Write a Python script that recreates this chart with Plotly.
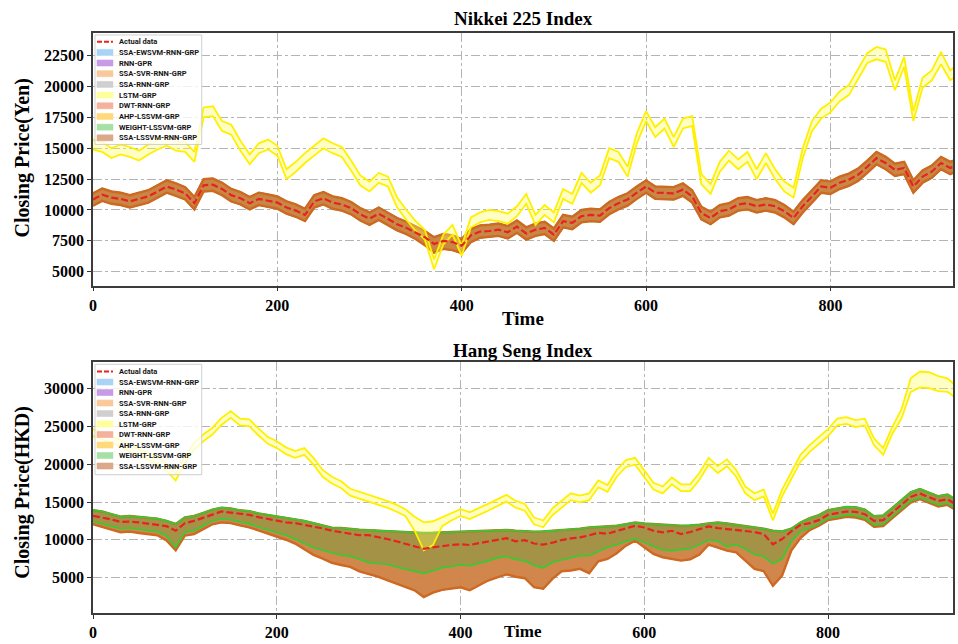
import plotly.graph_objects as go

# ---------------------------------------------------------------- data
time_nk = list(range(0, 950, 10))
time_hs = list(range(0, 950, 10))

nk_actual = [10840, 11240, 11000, 10900, 10700, 10900, 11100, 11500, 11900, 11650,
             11350, 10550, 12000, 12050, 11700, 11200, 10950, 10550, 10900, 10750,
             10600, 10200, 9950, 9600, 10700, 10950, 10600, 10450, 10150, 9650,
             9300, 9700, 9250, 8850, 8550, 8200, 7800, 7250, 7500, 7400,
             7100, 7950, 8250, 8300, 8400, 8200, 8650, 8100, 8400, 8550,
             8000, 9100, 8950, 9500, 9600, 9550, 10150, 10550, 10850, 11400,
             11900, 11400, 11400, 11350, 11650, 11100, 9750, 9350, 9900, 10050,
             10450, 10550, 10300, 10450, 10300, 9900, 9350, 10300, 11100, 11900,
             11800, 12200, 12450, 12850, 13500, 14200, 13800, 13250, 13400, 11900,
             12700, 13100, 13800, 13400, 13700]

nk_lo = [10340, 10740, 10500, 10400, 10200, 10400, 10600, 11000, 11400, 11150,
         10850, 10050, 11500, 11550, 11200, 10700, 10450, 10050, 10400, 10250,
         10100, 9700, 9450, 9100, 10200, 10450, 10100, 9950, 9650, 9150,
         8800, 9200, 8750, 8350, 8050, 7650, 7150, 6550, 6850, 6750,
         6500, 7400, 7750, 7800, 7900, 7700, 8150, 7600, 7900, 8050,
         7500, 8600, 8450, 9000, 9100, 9050, 9650, 10050, 10350, 10900,
         11400, 10900, 10900, 10850, 11150, 10600, 9250, 8850, 9400, 9550,
         9950, 10050, 9800, 9950, 9800, 9400, 8850, 9800, 10600, 11400,
         11300, 11700, 11950, 12350, 13000, 13700, 13300, 12750, 12900, 11400,
         12200, 12600, 13300, 12900, 13200]

nk_hi = [11340, 11740, 11500, 11400, 11200, 11400, 11600, 12000, 12400, 12150,
         11850, 11050, 12500, 12550, 12200, 11700, 11450, 11050, 11400, 11250,
         11100, 10700, 10450, 10100, 11200, 11450, 11100, 10950, 10650, 10150,
         9800, 10200, 9750, 9350, 9050, 8700, 8300, 7800, 8050, 7950,
         7650, 8450, 8750, 8800, 8900, 8700, 9150, 8600, 8900, 9050,
         8500, 9600, 9450, 10000, 10100, 10050, 10650, 11050, 11350, 11900,
         12400, 11900, 11900, 11850, 12150, 11600, 10250, 9850, 10400, 10550,
         10950, 11050, 10800, 10950, 10800, 10400, 9850, 10800, 11600, 12400,
         12300, 12700, 12950, 13350, 14000, 14700, 14300, 13750, 13900, 12400,
         13200, 13600, 14300, 13900, 14200]

nk_lstm_hi = [15700, 15500, 15000, 15300, 15100, 14800, 15300, 15700, 16000, 15600,
              15500, 14700, 18300, 18400, 17200, 16900, 15600, 14500, 15400, 15700,
              15200, 13300, 13900, 14600, 15200, 15800, 15400, 15100, 14000, 12800,
              12300, 13000, 12700, 11000, 10000, 9100, 8400, 6000, 8000, 8800,
              7100, 9400, 9800, 10000, 9900, 9700, 10300, 11300, 9600, 10400,
              9800, 11700, 11300, 13000, 12200, 12800, 15000, 14700, 13500, 16200,
              18000, 16700, 17400, 15900, 17400, 17600, 12900, 12100, 13900, 14800,
              14100, 14700, 13300, 14600, 13300, 12300, 11800, 15000, 17200, 18200,
              18700, 19600, 20100, 21400, 22700, 23200, 23000, 20500, 22400, 18000,
              20700, 21300, 22800, 21300, 21900]

nk_lstm_lo = [14900, 14700, 14200, 14500, 14300, 14000, 14500, 14900, 15200, 14800,
              14700, 13900, 17500, 17600, 16400, 16100, 14800, 13700, 14600, 14900,
              14400, 12500, 13100, 13800, 14400, 15000, 14600, 14300, 13200, 12000,
              11500, 12200, 11900, 10200, 9200, 8300, 7600, 5200, 7200, 8000,
              6300, 8600, 9000, 9200, 9100, 8900, 9500, 10500, 8800, 9600,
              9000, 10900, 10500, 12200, 11400, 12000, 14200, 13900, 12700, 15400,
              17200, 15900, 16600, 15100, 16600, 16800, 12100, 11300, 13100, 14000,
              13300, 13900, 12500, 13800, 12500, 11500, 11000, 14200, 16400, 17400,
              17900, 18800, 19300, 20600, 21900, 22200, 22000, 19700, 21600, 17200,
              19900, 20500, 21800, 20500, 21100]

hs_actual = [13170, 12950, 12700, 12350, 12400, 12300, 12150, 12050, 11800, 11200,
             12200, 12500, 12950, 13350, 13750, 13600, 13450, 13300, 13000, 12750,
             12500, 12300, 12200, 12000, 11700, 11500, 11200, 11000, 10800, 10600,
             10600, 10400, 10100, 9800, 9500, 9150, 8800, 9000, 9200, 9300,
             9400, 9300, 9550, 9800, 9950, 10200, 9800, 9950, 9500, 9350,
             9610, 9960, 10180, 10310, 10580, 10930, 10800, 11150, 11550, 11850,
             11630, 11190, 10970, 11190, 10750, 11020, 11410, 11760, 11550, 11410,
             11280, 11190, 11020, 10750, 9400, 10090, 11110, 11980, 12200, 12600,
             13300, 13520, 13740, 13700, 13390, 12510, 12600, 13610, 14710, 15680,
             16120, 15590, 15150, 15370, 14620]

hs_top = [13920, 13750, 13400, 13070, 13150, 13050, 12900, 12800, 12500, 12100,
          12950, 13150, 13550, 14000, 14250, 14150, 13900, 13800, 13500, 13300,
          13050, 12900, 12750, 12500, 12200, 11850, 11600, 11550, 11400, 11330,
          11280, 11200, 11150, 11100, 11000, 10950, 10900, 10920, 10970, 11000,
          11050, 11100, 11110, 11190, 11250, 11300, 11200, 11150, 11060, 11110,
          11190, 11280, 11370, 11460, 11630, 11680, 11770, 11850, 12070, 12290,
          12160, 12070, 11980, 11940, 11850, 11900, 11980, 12160, 12290, 12160,
          11980, 11850, 11630, 11460, 11190, 11110, 11460, 12290, 12860, 13260,
          13920, 14140, 14360, 14310, 14010, 13130, 13220, 14230, 15320, 16290,
          16730, 16200, 15760, 15980, 15240]

hs_mid = [12420, 12100, 11700, 11450, 11550, 11350, 11150, 11050, 10500, 9000,
          11000, 11200, 11850, 12500, 12750, 12650, 12350, 12100, 11700, 11350,
          11000, 10600, 10100, 9550, 8950, 8600, 8300, 7950, 7800, 7400,
          7000, 6850, 6750, 6400, 6100, 5800, 5550, 5900, 6300, 6450,
          6650, 6550, 6850, 7200, 7600, 7800, 7400, 7200, 6580, 6270,
          7020, 7330, 7680, 7900, 7880, 8470, 9000, 9350, 9790, 10090,
          9660, 9090, 8650, 8560, 8730, 8820, 9350, 9960, 9790, 9090,
          9350, 8780, 8030, 7770, 6800, 7460, 9790, 11110, 11550, 12070,
          12820, 13040, 13260, 13170, 12860, 11980, 12070, 13080, 14180, 15150,
          15590, 15060, 14620, 14840, 14090]

hs_bot = [12070, 11750, 11350, 11000, 11100, 10900, 10700, 10600, 9900, 8600,
          10550, 10750, 11400, 12050, 12300, 12200, 11900, 11650, 11250, 10850,
          10450, 10000, 9500, 8800, 8000, 7500, 6950, 6650, 6400, 5800,
          5500, 5100, 4650, 4200, 3800, 3300, 2400, 3000, 3350, 3500,
          3700, 3300, 3900, 4600, 5000, 5400, 5100, 4900, 3720, 3500,
          4820, 5830, 5920, 6140, 5570, 7150, 7460, 8210, 9220, 9880,
          9000, 8120, 7680, 7460, 7240, 7410, 8030, 9350, 9000, 8560,
          8340, 7240, 6140, 5830, 3900, 5260, 8560, 10230, 11280, 11850,
          12600, 12820, 13040, 12950, 12640, 11720, 11810, 12860, 13960, 14930,
          15370, 14840, 14400, 14620, 13870]

hs_lstm_hi = [24650, 24250, 23750, 23250, 22550, 22050, 21450, 20950, 20050, 18750,
              21050, 22850, 23950, 24850, 26150, 27050, 26050, 25950, 24750, 23650,
              23050, 22250, 21750, 22150, 20850, 19250, 18350, 17750, 16750, 16350,
              15950, 15650, 15150, 14650, 14050, 13050, 12300, 12450, 12950, 13450,
              14050, 13650, 14150, 14750, 15350, 15950, 15150, 14750, 12950, 12550,
              14150, 15150, 16150, 15850, 16150, 17850, 17250, 19250, 20550, 20850,
              19250, 17550, 17050, 18250, 17350, 17350, 18850, 20850, 19750, 20650,
              19250, 17050, 16150, 16650, 13450, 16650, 18950, 21250, 22550, 23650,
              24650, 26050, 26250, 25850, 26050, 23450, 22150, 24950, 27300, 31400,
              32300, 32200, 31700, 31400, 30300]

hs_lstm_lo = [23750, 23350, 22850, 22350, 21650, 21150, 20550, 20050, 19150, 17850,
              20150, 21950, 23050, 23950, 25250, 26150, 25150, 25050, 23850, 22750,
              22150, 21350, 20850, 21250, 19950, 18350, 17450, 16850, 15850, 15450,
              15050, 14750, 14250, 13750, 13150, 11200, 8600, 9300, 11800, 12550,
              13150, 12750, 13250, 13850, 14450, 15050, 14250, 13850, 12050, 11650,
              13250, 14250, 15250, 14950, 15250, 16950, 16350, 18350, 19650, 19950,
              18350, 16650, 16150, 17350, 16450, 16450, 17950, 19950, 18850, 19750,
              18350, 16150, 15250, 15750, 12550, 15750, 18050, 20350, 21650, 22750,
              23750, 25150, 25350, 24950, 25150, 22550, 21250, 24050, 26100, 29600,
              30200, 30100, 29700, 29600, 28700]

yticks_nk = [5000, 7500, 10000, 12500, 15000, 17500, 20000, 22500]
yticks_hs = [5000, 10000, 15000, 20000, 25000, 30000]
xticks = [0, 200, 400, 600, 800]

legend_names = ["Actual data", "SSA-EWSVM-RNN-GRP", "RNN-GPR", "SSA-SVR-RNN-GRP",
                "SSA-RNN-GRP", "LSTM-GRP", "DWT-RNN-GRP", "AHP-LSSVM-GRP",
                "WEIGHT-LSSVM-GRP", "SSA-LSSVM-RNN-GRP"]

for arr in (nk_actual, nk_lo, nk_hi, nk_lstm_hi, nk_lstm_lo, hs_actual, hs_top,
            hs_mid, hs_bot, hs_lstm_hi, hs_lstm_lo):
    assert len(arr) == len(time_nk), len(arr)

# ---------------------------------------------------------------- styles
STYLE = {
    "SSA-EWSVM-RNN-GRP": dict(fill="rgba(80,160,235,0.35)", line="rgb(70,150,225)", w=1.0, sw="#a9d4f5"),
    "RNN-GPR":           dict(fill="rgba(150,70,210,0.35)", line="rgb(150,80,200)", w=1.0, sw="#c89be6"),
    "SSA-SVR-RNN-GRP":   dict(fill="rgba(250,160,80,0.35)", line="rgb(250,150,60)", w=1.0, sw="#f9c99b"),
    "SSA-RNN-GRP":       dict(fill="rgba(150,150,150,0.35)", line="rgb(140,140,140)", w=1.0, sw="#cfcfcf"),
    "LSTM-GRP":          dict(fill="rgba(255,255,90,0.35)", line="rgb(255,240,0)", w=1.8, sw="#ffff99"),
    "DWT-RNN-GRP":       dict(fill="rgba(240,120,80,0.4)", line="rgb(235,110,60)", w=1.0, sw="#f4b29a"),
    "AHP-LSSVM-GRP":     dict(fill="rgba(240,190,50,0.35)", line="rgb(245,195,40)", w=1.2, sw="#ffd97a"),
    "WEIGHT-LSSVM-GRP":  dict(fill="rgba(60,180,60,0.3)", line="rgb(50,205,50)", w=1.6, sw="#a6e0a6"),
    "SSA-LSSVM-RNN-GRP": dict(fill="rgba(200,110,50,0.5)", line="rgb(205,105,35)", w=2.4, sw="#dba88a"),
}
# the green interval sits under the brown one on the Nikkei panel, on top of it on Hang Seng
ORDER_NK = ["SSA-EWSVM-RNN-GRP", "RNN-GPR", "SSA-SVR-RNN-GRP", "SSA-RNN-GRP",
            "WEIGHT-LSSVM-GRP", "DWT-RNN-GRP", "AHP-LSSVM-GRP", "SSA-LSSVM-RNN-GRP",
            "LSTM-GRP"]
ORDER_HS = ["SSA-EWSVM-RNN-GRP", "RNN-GPR", "SSA-SVR-RNN-GRP", "SSA-RNN-GRP",
            "DWT-RNN-GRP", "AHP-LSSVM-GRP", "SSA-LSSVM-RNN-GRP",
            "WEIGHT-LSSVM-GRP", "LSTM-GRP"]
ACTUAL_COLOR = "#e8231f"

nk_bounds = {m: (nk_lo, nk_hi) for m in ORDER_NK}
nk_bounds["LSTM-GRP"] = (nk_lstm_lo, nk_lstm_hi)
hs_bounds = {m: (hs_bot, hs_top) for m in ORDER_HS}
hs_bounds["WEIGHT-LSSVM-GRP"] = (hs_mid, hs_top)
hs_bounds["LSTM-GRP"] = (hs_lstm_lo, hs_lstm_hi)

# ---------------------------------------------------------------- geometry
FIG_W, FIG_H = 958, 644
M_L, M_R, M_T, M_B = 93, 3, 33, 28
PW = FIG_W - M_L - M_R
PH = FIG_H - M_T - M_B


def px(xp):
    return (xp - M_L) / PW


def py(yp):
    return (FIG_H - M_B - yp) / PH


fig = go.Figure()


def add_panel(x, order, bounds, actual, xa, ya):
    for m in order:
        st = STYLE[m]
        lo, hi = bounds[m]
        fig.add_trace(go.Scatter(x=x, y=lo, mode="lines", xaxis=xa, yaxis=ya,
                                 line=dict(color=st["line"], width=st["w"]),
                                 showlegend=False, hoverinfo="skip"))
        fig.add_trace(go.Scatter(x=x, y=hi, mode="lines", xaxis=xa, yaxis=ya,
                                 fill="tonexty", fillcolor=st["fill"],
                                 line=dict(color=st["line"], width=st["w"]),
                                 showlegend=False, name=m))
    fig.add_trace(go.Scatter(x=x, y=actual, mode="lines", xaxis=xa, yaxis=ya,
                             line=dict(color=ACTUAL_COLOR, width=2.2, dash="7px,3px"),
                             showlegend=False, name="Actual data"))


add_panel(time_nk, ORDER_NK, nk_bounds, nk_actual, "x", "y")
add_panel(time_hs, ORDER_HS, hs_bounds, hs_actual, "x2", "y2")

TICKFONT = dict(family="Liberation Serif", size=16, color="black", weight="bold")
axis_common = dict(showline=True, mirror=True, linecolor="#3c3c3c", linewidth=1.5,
                   ticks="outside", ticklen=4, tickwidth=1.2, tickcolor="#333",
                   showgrid=True, gridcolor="#b4b4b4", griddash="dashdot", gridwidth=1,
                   zeroline=False, tickfont=TICKFONT, tickformat="d")

fig.update_layout(
    width=FIG_W, height=FIG_H,
    margin=dict(l=M_L, r=M_R, t=M_T, b=M_B),
    paper_bgcolor="white", plot_bgcolor="white",
    showlegend=False,
    xaxis=dict(domain=[0, 1], anchor="y", range=[0, 933], tickvals=xticks, **axis_common),
    yaxis=dict(domain=[py(287), 1], anchor="x", range=[3870, 24330], tickvals=yticks_nk,
               **axis_common),
    xaxis2=dict(domain=[0, 1], anchor="y2", range=[0, 936], tickvals=xticks, **axis_common),
    yaxis2=dict(domain=[0, py(364)], anchor="x2", range=[290, 33520], tickvals=yticks_hs,
                **axis_common),
)

# ---------------------------------------------------------------- titles
SERIF = "Liberation Serif"
ann = []


def label(text, xp, yp, size=19, angle=0):
    ann.append(dict(text="<b>%s</b>" % text, x=px(xp), y=py(yp), xref="paper", yref="paper",
                    showarrow=False, textangle=angle, xanchor="center", yanchor="middle",
                    font=dict(family=SERIF, size=size, color="black")))


label("Nikkei 225 Index", 524, 18)
label("Hang Seng Index", 524, 352)
label("Time", 524, 320)
label("Time", 524, 635, size=17)
label("Closing Price(Yen)", 22, 159, size=20, angle=-90)
label("Closing Price(HKD)", 22, 495, size=20, angle=-90)

# ---------------------------------------------------------------- legends
shapes = []


def draw_legend(box, first_y, step):
    x0, y0, x1, y1 = box
    shapes.append(dict(type="rect", xref="paper", yref="paper", layer="above",
                       x0=px(x0), x1=px(x1), y0=py(y1), y1=py(y0),
                       fillcolor="rgba(255,255,255,0.8)", line=dict(color="#cfcfcf", width=1)))
    for i, name in enumerate(legend_names):
        yc = first_y + i * step
        if name == "Actual data":
            shapes.append(dict(type="line", xref="paper", yref="paper", layer="above",
                               x0=px(97), x1=px(113), y0=py(yc), y1=py(yc),
                               line=dict(color=ACTUAL_COLOR, width=2, dash="5px,2px")))
        else:
            st = STYLE[name]
            shapes.append(dict(type="rect", xref="paper", yref="paper", layer="above",
                               x0=px(97), x1=px(113), y0=py(yc + 3), y1=py(yc - 3),
                               fillcolor=st["sw"], line=dict(color=st["sw"], width=0.6)))
        ann.append(dict(text=name, x=px(117), y=py(yc), xref="paper", yref="paper",
                        showarrow=False, xanchor="left", yanchor="middle",
                        font=dict(family="Roboto", size=7.5, color="#151515", weight="bold")))


draw_legend((95, 35, 202, 145), 41.7, 10.74)
draw_legend((95, 366, 202, 477), 373.3, 10.55)

fig.update_layout(annotations=ann, shapes=shapes)

fig.write_html("out.html")
